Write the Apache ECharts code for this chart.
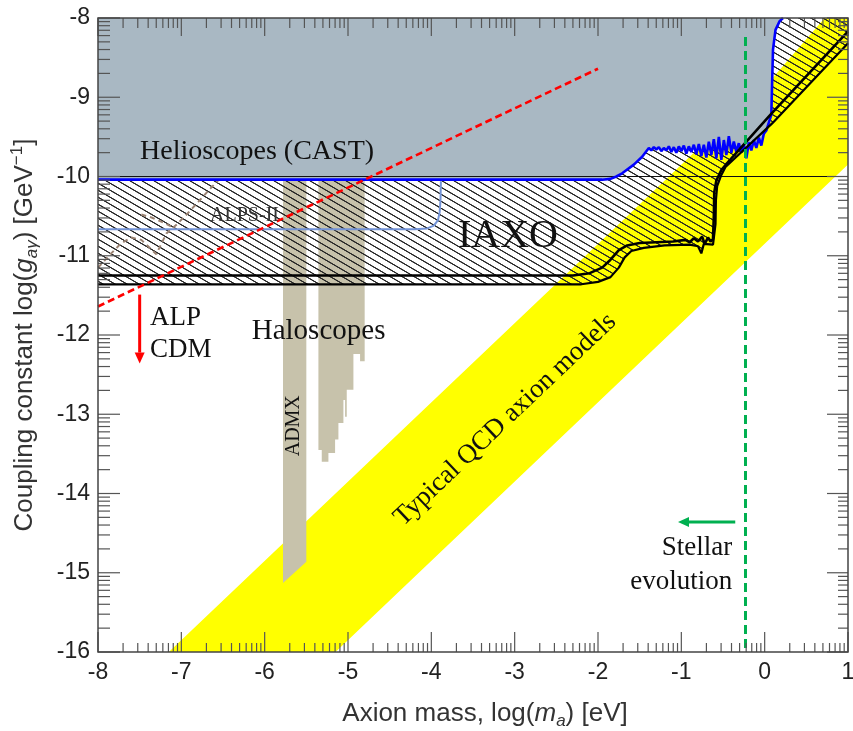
<!DOCTYPE html>
<html><head><meta charset="utf-8">
<script src="https://cdn.jsdelivr.net/npm/echarts@6/dist/echarts.min.js"></script>
<style>html,body{margin:0;padding:0;background:#fff}#c{width:853px;height:731px}</style>
</head><body><div id="c"></div>
<script>
// ---------------- data (log10 units) ----------------
const castLine = [[-8,-10.04],[-1.95,-10.04],[-1.85,-10.03],[-1.78,-10.0],[-1.71,-9.96],[-1.57,-9.85],[-1.47,-9.75],[-1.39,-9.64],
 [-1.36,-9.67],[-1.33,-9.63],[-1.30,-9.66],[-1.27,-9.63],[-1.24,-9.68],[-1.21,-9.64],[-1.18,-9.67],[-1.15,-9.62],[-1.12,-9.69],
 [-1.09,-9.63],[-1.06,-9.70],[-1.03,-9.62],[-1.00,-9.68],[-0.97,-9.61],[-0.94,-9.71],[-0.91,-9.62],[-0.88,-9.69],[-0.85,-9.60],
 [-0.82,-9.72],[-0.79,-9.59],[-0.76,-9.74],[-0.73,-9.60],[-0.70,-9.76],[-0.67,-9.56],[-0.64,-9.73],[-0.61,-9.53],[-0.58,-9.77],
 [-0.55,-9.50],[-0.52,-9.79],[-0.49,-9.54],[-0.46,-9.73],[-0.43,-9.49],[-0.40,-9.70],[-0.37,-9.56],[-0.34,-9.69],[-0.31,-9.58],
 [-0.28,-9.70],[-0.25,-9.60],[-0.22,-9.77],[-0.19,-9.57],[-0.16,-9.67],[-0.13,-9.54],[-0.10,-9.64],[-0.07,-9.51],[-0.04,-9.61],
 [-0.01,-9.46],[0.02,-9.42],[0.05,-9.32],[0.08,-9.22],[0.09,-8.80],[0.10,-8.40],[0.13,-8.15],[0.18,-8.04],[0.22,-8.0]];
const iaxoUpper = [[-8,-11.25],[-2.3,-11.25],[-2.1,-11.22],[-1.95,-11.15],[-1.85,-11.05],[-1.75,-10.93],[-1.65,-10.87],[-1.5,-10.84],
 [-1.3,-10.83],[-1.1,-10.82],[-0.95,-10.80],[-0.9,-10.83],[-0.85,-10.78],[-0.8,-10.82],[-0.75,-10.76],[-0.72,-10.85],[-0.68,-10.77],
 [-0.65,-10.82],[-0.62,-10.79],[-0.61,-10.5],[-0.605,-10.2],[-0.58,-10.05],[-0.52,-9.92],[-0.45,-9.83],[0.07,-9.22],[1,-8.17]];
const iaxoLower = [[-8,-11.36],[-2.2,-11.36],[-2.0,-11.33],[-1.85,-11.27],[-1.75,-11.15],[-1.68,-11.02],[-1.6,-10.94],[-1.45,-10.9],
 [-1.2,-10.87],[-0.9,-10.86],[-0.8,-10.88],[-0.76,-10.97],[-0.73,-10.85],[-0.62,-10.86],[-0.59,-10.6],[-0.585,-10.3],[-0.57,-10.12],
 [-0.52,-9.98],[-0.47,-9.88],[0.09,-9.33],[1,-8.32]];
const babyLine = [[-8,-10.665],[-4.2,-10.665],[-4.05,-10.655],[-3.97,-10.62],[-3.92,-10.55],[-3.9,-10.45],[-3.89,-10.3],[-3.885,-10.06]];
const castThin = [[-8,-10.0],[1,-10.0]];
const alpsMain = [[-8,-11.15],[-7.85,-10.98],[-7.72,-10.84],[-7.6,-10.77],[-7.48,-10.8],[-7.38,-10.9],[-7.3,-10.98],[-7.24,-10.85],
 [-7.18,-10.72],[-7.05,-10.6],[-6.92,-10.46],[-6.78,-10.3],[-6.65,-10.15],[-6.55,-10.04]];
const alpsBranch = [[-7.48,-10.48],[-7.35,-10.52],[-7.22,-10.58],[-7.08,-10.65]];
const alpCdmLine = [[-8,-11.64],[-2,-8.64]];
const stellarLine = [[-0.23,-8.24],[-0.23,-16]];
const qcdBand = [[-7.15,-16],[-5.15,-16],[1,-9.85],[1,-8],[0.72,-8],[0.1,-8.75]];
const admxBar = [[-5.78,-10.04],[-5.50,-10.04],[-5.50,-14.86],[-5.78,-15.13]];
const haloBlock = [[-5.355,-10.04],[-4.80,-10.04],[-4.80,-12.33],[-4.855,-12.33],[-4.855,-12.24],[-4.935,-12.24],[-4.935,-12.69],
 [-5.015,-12.69],[-5.015,-13.03],[-5.035,-13.03],[-5.035,-12.82],[-5.055,-12.82],[-5.055,-13.11],[-5.115,-13.11],[-5.115,-13.32],
 [-5.155,-13.32],[-5.155,-13.49],[-5.235,-13.49],[-5.235,-13.6],[-5.315,-13.6],[-5.315,-13.45],[-5.355,-13.45]];
const arrows = [[-7.5,-11.49,-7.5,-12.36],[-0.353,-14.36,-1.04,-14.36]];
const labelTexts = ['Helioscopes (CAST)','IAXO','ALPS-II','Haloscopes','ALP','CDM','ADMX','Typical QCD axion models','Stellar','evolution'];
const labelPos = [[-7.496,-9.683],[-3.08,-10.76],[-6.655,-10.49],[-6.155,-11.95],[-7.376,-11.79],[-7.376,-12.19],[-5.647,-13.145],[-3.114,-13.07],[-0.389,-14.69],[-0.389,-15.11]];
const xMin=-8, xMax=1, yMin=-16, yMax=-8;

// ---------------- styles ----------------
const SERIF = "'Liberation Serif','Times New Roman',serif";
const SANS = "'Liberation Sans',Arial,sans-serif";
const labelStyle = [
 {size:28,align:'left'},{size:40,align:'center'},{size:20,align:'left',color:'#333'},{size:29,align:'left'},
 {size:27,align:'left'},{size:27,align:'left'},{size:20,align:'center',rot:'v'},{size:27,align:'center',rot:'band'},
 {size:27,align:'right'},{size:27,align:'right'}];

// hatch pattern
const hc = document.createElement('canvas'); hc.width=12; hc.height=7;
const hx = hc.getContext('2d'); hx.strokeStyle='#222'; hx.lineWidth=0.9;
for (const dx of [-12,0,12]) for (const dy of [-7,0,7]) { hx.beginPath(); hx.moveTo(dx-12,dy-7); hx.lineTo(dx+24,dy+14); hx.stroke(); }

// log ticks
const xMajor=[], xMinor=[], yMajor=[], yMinor=[];
for (let d=xMin; d<=xMax; d++){ xMajor.push(d); if(d<xMax) for(let k=2;k<=9;k++) xMinor.push(d+Math.log10(k)); }
for (let d=yMin; d<=yMax; d++){ yMajor.push(d); if(d<yMax) for(let k=2;k<=9;k++) yMinor.push(d+Math.log10(k)); }

function polySeries(pts, fill, z){
  return {type:'custom', silent:true, z:z, data:pts, encode:{x:0,y:1},
    renderItem:(params,api)=>{ if(params.dataIndex!==0) return null;
      return {type:'polygon', shape:{points:pts.map(p=>api.coord(p))}, style:{fill:fill, stroke:null}}; }};
}
function lineSeries(pts, color, width, type, z){
  return {type:'line', data:pts, showSymbol:false, symbol:'none', silent:true, z:z, smooth:false,
    lineStyle:{color:color, width:width, type:type||'solid', cap:'butt'}};
}

const chart = echarts.init(document.getElementById('c'), null, {renderer:'canvas'});
const nameRich = {
  i:{fontStyle:'italic', fontSize:26, fontFamily:SANS, color:'#333', lineHeight:32},
  s:{fontStyle:'italic', fontSize:17, fontFamily:SANS, color:'#333', verticalAlign:'bottom', lineHeight:15},
  p:{fontSize:17, fontFamily:SANS, color:'#333', verticalAlign:'top', lineHeight:15}
};
const option = {
  animation:false,
  grid:{left:98, top:18, width:750, height:634, show:false, containLabel:false, outerBoundsMode:'none'},
  xAxis:{type:'value', min:xMin, max:xMax, interval:1, axisLine:{show:false}, axisTick:{show:false}, splitLine:{show:false},
    axisLabel:{fontSize:23, fontFamily:SANS, color:'#222', margin:9},
    name:'Axion mass, log({i|m}{s|a}) [eV]', nameLocation:'middle', nameGap:46,
    nameTextStyle:{fontSize:26, fontFamily:SANS, color:'#333', lineHeight:32, padding:[0,0,0,24], rich:nameRich}},
  yAxis:{type:'value', min:yMin, max:yMax, interval:1, axisLine:{show:false}, axisTick:{show:false}, splitLine:{show:false},
    axisLabel:{fontSize:23, fontFamily:SANS, color:'#222', margin:8},
    name:'Coupling constant log({i|g}{s|a\u03b3}) [GeV{p|\u22121}]', nameLocation:'middle', nameGap:57, nameRotate:90,
    nameTextStyle:{fontSize:26, fontFamily:SANS, color:'#333', lineHeight:32, rich:nameRich}},
  series:[
    polySeries(qcdBand, '#ffff00', 1),
    polySeries(admxBar, '#c7c2ab', 2),
    polySeries(haloBlock, '#c7c2ab', 2),
    polySeries(castLine.concat([[1,-8]], iaxoLower.slice().reverse()), {image:hc, repeat:'repeat'}, 3),
    polySeries(castLine.concat([[-8,-8]]), '#a9b8c3', 4),
    lineSeries(babyLine, '#7393d6', 2, 'solid', 5),
    lineSeries(alpsMain, '#9a8272', 2, [5,4], 5),
    lineSeries(alpsBranch, '#9a8272', 2, [5,4], 5),
    lineSeries(castThin, '#111', 1.2, 'solid', 5),
    lineSeries(castLine, '#0000ff', 2.6, 'solid', 6),
    lineSeries(iaxoLower, '#000', 2.2, 'solid', 6),
    lineSeries(iaxoUpper, '#000', 2.6, 'solid', 6),
    lineSeries(alpCdmLine, '#ff0000', 2.6, [7,4], 7),
    lineSeries(stellarLine, '#00b050', 3, [9,5], 7),
    // arrows
    {type:'custom', silent:true, z:9, data:arrows, encode:{x:[0,2], y:[1,3]},
      renderItem:(params,api)=>{
        const a = arrows[params.dataIndex];
        const color = params.dataIndex===0 ? '#ff0000' : '#00b050';
        const p1 = api.coord([a[0],a[1]]), p2 = api.coord([a[2],a[3]]);
        const L = Math.hypot(p2[0]-p1[0], p2[1]-p1[1]); const ux=(p2[0]-p1[0])/L, uy=(p2[1]-p1[1])/L;
        const hl=11, hw=5; const bx=p2[0]-ux*hl, by=p2[1]-uy*hl;
        return {type:'group', children:[
          {type:'line', shape:{x1:p1[0],y1:p1[1],x2:bx,y2:by}, style:{stroke:color, lineWidth:3}},
          {type:'polygon', shape:{points:[[p2[0],p2[1]],[bx-uy*hw,by+ux*hw],[bx+uy*hw,by-ux*hw]]}, style:{fill:color}}]};
      }},
    // frame + log ticks
    {type:'custom', silent:true, z:10, data:[[xMin,yMin]], encode:{x:0,y:1},
      renderItem:(params,api)=>{
        const cs = params.coordSys; const L=cs.x, T=cs.y, R=cs.x+cs.width, B=cs.y+cs.height;
        const ch=[]; const st={stroke:'#555', lineWidth:1.2};
        const ln=(x1,y1,x2,y2)=>ch.push({type:'line', shape:{x1,y1,x2,y2}, style:st});
        xMinor.forEach(v=>{const x=api.coord([v,yMin])[0]; ln(x,B,x,B-9); ln(x,T,x,T+10);});
        xMajor.forEach(v=>{const x=api.coord([v,yMin])[0]; ln(x,B,x,B-20); ln(x,T,x,T+18);});
        yMinor.forEach(v=>{const y=api.coord([xMin,v])[1]; ln(L,y,L+12,y); ln(R,y,R-10,y);});
        yMajor.forEach(v=>{const y=api.coord([xMin,v])[1]; ln(L,y,L+22,y); ln(R,y,R-21,y);});
        ch.push({type:'rect', shape:{x:L,y:T,width:R-L,height:B-T}, style:{fill:null, stroke:'#444', lineWidth:1.5}});
        return {type:'group', children:ch};
      }},
    // text annotations
    {type:'custom', silent:true, z:11, data:labelPos, encode:{x:0,y:1},
      renderItem:(params,api)=>{
        const i=params.dataIndex, s=labelStyle[i]; const p=api.coord(labelPos[i]);
        let rot=0;
        if (s.rot==='v') rot=Math.PI/2;
        if (s.rot==='band'){ const a=api.coord([-6,-14.85]), b=api.coord([0,-8.85]); rot=Math.atan2(a[1]-b[1], b[0]-a[0]); }
        return {type:'text', x:p[0], y:p[1], rotation:rot,
          style:{text:labelTexts[i], fontSize:s.size, fontFamily:SERIF, fill:s.color||'#111', align:s.align, verticalAlign:'middle'}};
      }}
  ]
};
chart.setOption(option);
</script></body></html>
